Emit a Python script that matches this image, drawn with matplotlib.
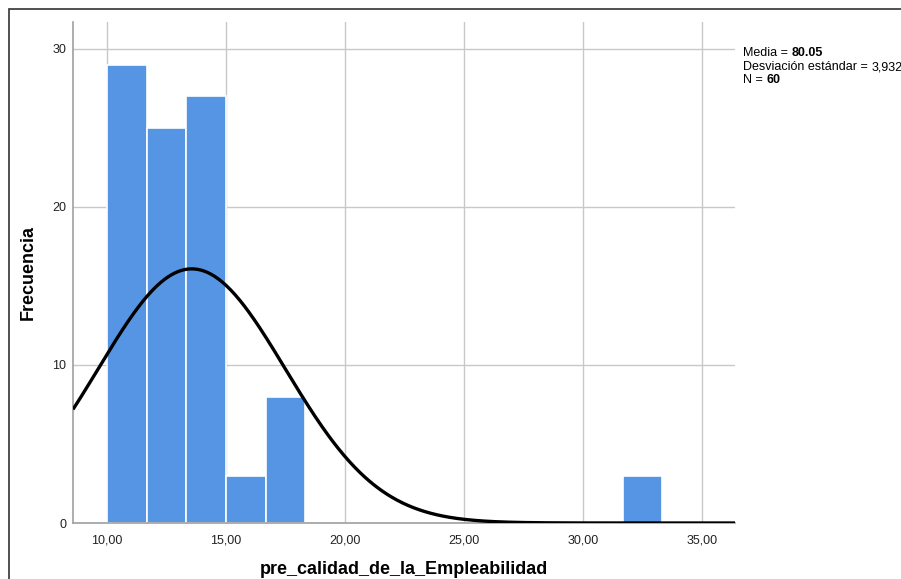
import numpy as np
import matplotlib
matplotlib.use("Agg")
import matplotlib.pyplot as plt
from matplotlib.patches import Rectangle

# Data
bin_width = 5.0 / 3.0
bin_lefts = [10.0, 11.6667, 13.3333, 15.0, 16.6667, 31.6667]
counts = [29, 25, 27, 3, 8, 3]

curve_mean = 13.56
curve_sd = 3.932
curve_peak = 16.08

x_ticks = [10, 15, 20, 25, 30, 35]
x_tick_labels = ["10,00", "15,00", "20,00", "25,00", "30,00", "35,00"]
y_ticks = [0, 10, 20, 30]

stats_labels = ["Media =", "Desviación estándar =", "N ="]
stats_values = ["80.05", "3,932", "60"]
stats_bold = [True, False, True]

plt.rcParams['font.family'] = ['Liberation Sans', 'DejaVu Sans']

W, H = 901, 579
fig = plt.figure(figsize=(W/100, H/100), dpi=100)
ax = fig.add_axes([73/W, 1 - 523/H, (735-73)/W, (523-22)/H])

xmin, xmax = 8.57, 36.39
ax.set_xlim(xmin, xmax)
ax.set_ylim(0, 31.7)

ax.grid(True, color='#c8c8c8', linewidth=1.0, zorder=0)
ax.set_axisbelow(True)

ax.bar(bin_lefts, counts, width=bin_width, align='edge', color='#5694E4',
       edgecolor='white', linewidth=1.2, zorder=2)

xs = np.linspace(xmin, xmax, 600)
ys = curve_peak * np.exp(-0.5 * ((xs - curve_mean) / curve_sd) ** 2)
ax.plot(xs, ys, color='black', linewidth=2.4, zorder=3, solid_capstyle='butt')

for s in ['top', 'right']:
    ax.spines[s].set_visible(False)
for s in ['left', 'bottom']:
    ax.spines[s].set_color('#a0a0a0')
    ax.spines[s].set_linewidth(1.2)

ax.set_xticks(x_ticks)
ax.set_xticklabels(x_tick_labels)
ax.set_yticks(y_ticks)
ax.tick_params(axis='both', length=0, labelsize=9, colors='#222222')
ax.tick_params(axis='x', pad=8)
ax.tick_params(axis='y', pad=5)

ax.set_xlabel("pre_calidad_de_la_Empleabilidad", fontsize=13, fontweight='bold', labelpad=11)
ax.set_ylabel("Frecuencia", fontsize=13, fontweight='bold', labelpad=11)

# Statistics text
fig.canvas.draw()
renderer = fig.canvas.get_renderer()
ys_txt = [53, 67, 80]
for lab, val, bold, yp in zip(stats_labels, stats_values, stats_bold, ys_txt):
    t = fig.text(743/W, 1 - yp/H, lab, fontsize=9, va='center', ha='left')
    bb = t.get_window_extent(renderer=renderer)
    fig.text((bb.x1 + 3.5)/W, 1 - yp/H, val, fontsize=9, va='center', ha='left',
             fontweight='bold' if bold else 'normal')

# Figure border
fig.patches.append(Rectangle((9/W, -0.05), 1.1, 1 - 9/H + 0.05, transform=fig.transFigure,
                             fill=False, edgecolor='#333333', linewidth=1.2))

fig.savefig("out.png", dpi=100)
